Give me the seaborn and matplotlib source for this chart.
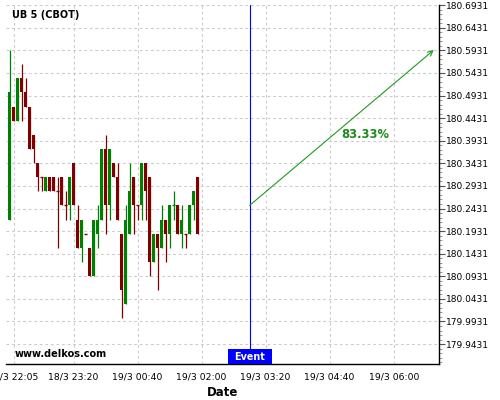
import matplotlib
matplotlib.use("Agg")
import matplotlib.pyplot as plt
import matplotlib.dates as mdates
import matplotlib.ticker as mticker
from matplotlib.patches import Rectangle
import matplotlib.transforms as mtrans
import numpy as np
import pandas as pd
import seaborn as sns

# 5 minute candles, prices quoted in 32nds above 180
opens  = [7, 15, 14, 17, 16, 15, 13, 11, 10, 9, 10, 10, 9, 10, 8, 8, 11, 7, 5, 6, 5, 3, 6, 7,
          12, 8, 11, 10, 6, 1, 6, 10, 8, 8, 11, 10, 4, 6, 5, 7, 6, 8, 8, 6, 6, 6, 8, 10]
highs  = [19, 15, 17, 18, 17, 15, 13, 11, 10, 10, 10, 10, 10, 10, 9, 10, 11, 8, 7, 6, 5, 7, 8, 12,
          13, 12, 11, 11, 6, 8, 11, 10, 8, 11, 11, 10, 6, 6, 8, 7, 8, 9, 8, 8, 6, 8, 9, 10]
lows   = [7, 14, 14, 14, 15, 12, 11, 9, 9, 9, 9, 9, 5, 8, 7, 7, 8, 5, 4, 6, 3, 3, 5, 7,
          6, 7, 10, 7, 0, 1, 6, 6, 7, 7, 7, 3, 4, 2, 5, 4, 5, 7, 6, 5, 5, 6, 7, 6]
closes = [16, 14, 17, 16, 15, 12, 12, 10, 10, 10, 9, 9, 9, 8, 8, 10, 8, 5, 7, 6, 3, 7, 7, 12,
          8, 12, 10, 7, 2, 7, 9, 8, 8, 11, 9, 4, 6, 5, 7, 6, 8, 8, 6, 7, 6, 8, 9, 6]
green_dojis = [41]  # index of the flat candle drawn green

start_time = "2024-03-18 22:00"
event_time = "2024-03-19 03:00"
arrow_end_time = "2024-03-19 06:50"
arrow_start_price = 8
arrow_end_price = 19
label_time = "2024-03-19 04:55"
label_price = 180.408
label_text = "83.33%"
tick_times = ["2024-03-18 22:05", "2024-03-18 23:20", "2024-03-19 00:40", "2024-03-19 02:00",
              "2024-03-19 03:20", "2024-03-19 04:40", "2024-03-19 06:00"]

sns.set_style("white")
plt.rcParams['font.family'] = ['DejaVu Sans']
plt.rcParams['text.color'] = 'black'
plt.rcParams['axes.labelcolor'] = 'black'
plt.rcParams['xtick.color'] = 'black'
plt.rcParams['ytick.color'] = 'black'

GREEN = "#008000"
RED = "#800000"
BLUE = "#0000ee"

o = 180 + np.array(opens) / 32
h = 180 + np.array(highs) / 32
l = 180 + np.array(lows) / 32
c = 180 + np.array(closes) / 32
times = pd.date_range(start_time, periods=len(opens), freq="5min")
x = mdates.date2num(times)

fig = plt.figure(figsize=(5, 4), dpi=100)
ax = fig.add_axes([6 / 500, 36 / 400, 433 / 500, 359 / 400])

up = c > o
flat = c == o
colors = [GREEN if (u or (f and i in green_dojis)) else RED for i, (u, f) in enumerate(zip(up, flat))]
w = 3.6 / 1440

ax.vlines(x, l, h, colors=colors, lw=0.9, zorder=3)
body_lo = np.minimum(o, c)
body_hi = np.maximum(o, c)
nz = ~flat
ax.bar(x[nz], (body_hi - body_lo)[nz], bottom=body_lo[nz], width=w,
       color=np.array(colors)[nz], linewidth=0, zorder=4)
ax.hlines(o[flat], x[flat] - w / 2, x[flat] + w / 2, colors=np.array(colors)[flat], lw=1.0, zorder=4)

ev = mdates.date2num(pd.Timestamp(event_time))
ax.set_xlim(mdates.date2num(pd.Timestamp("2024-03-18 21:55:36")),
            mdates.date2num(pd.Timestamp("2024-03-19 06:56:36")))
ax.set_ylim(179.899, 180.6935)

# event marker
box_h = 15 / 359
ax.axvline(ev, ymin=box_h, ymax=1, color=BLUE, lw=0.8, zorder=5)
trans = mtrans.blended_transform_factory(ax.transData, ax.transAxes)
ax.add_patch(Rectangle((ev - 27.5 / 1440, 0), 55 / 1440, box_h, transform=trans,
                       facecolor="#0000ff", edgecolor="none", zorder=6, clip_on=False))
ax.text(ev, box_h / 2, "Event", transform=trans, ha="center", va="center",
        color="white", fontsize=6.9, fontweight="bold", zorder=7)

# projection arrow
ax.annotate("", xy=(mdates.date2num(pd.Timestamp(arrow_end_time)), 180 + arrow_end_price / 32),
            xytext=(ev, 180 + arrow_start_price / 32),
            arrowprops=dict(arrowstyle="->", color="#1f9a1f", lw=0.8, mutation_scale=9,
                            shrinkA=0, shrinkB=0), zorder=5)
ax.text(mdates.date2num(pd.Timestamp(label_time)), label_price, label_text, color="#1a8a1a",
        fontsize=8.3, fontweight="bold", ha="left", va="center")

# axes styling
ax.xaxis.set_major_locator(mticker.FixedLocator(mdates.date2num(pd.to_datetime(tick_times))))
ax.xaxis.set_minor_locator(mticker.FixedLocator(
    mdates.date2num(pd.date_range("2024-03-18 21:40", "2024-03-19 07:00", freq="20min"))))
ax.xaxis.set_major_formatter(mdates.DateFormatter("%-d/%-m %H:%M"))

yt = 179.9431 + 0.05 * np.arange(16)
ax.yaxis.set_major_locator(mticker.FixedLocator(yt))
ax.yaxis.set_minor_locator(mticker.FixedLocator(179.8931 + 0.01 * np.arange(81)))
ax.yaxis.set_major_formatter(mticker.FormatStrFormatter("%.4f"))
ax.yaxis.tick_right()

ax.tick_params(axis="both", which="major", length=4, width=0.8, color="#555555",
               labelsize=6.7, pad=2, direction="out")
ax.tick_params(axis="both", which="minor", length=2, width=0.6, color="#888888", direction="out")
ax.tick_params(axis="y", labelsize=6.5, pad=1)

ax.grid(True, which="major", color="#cccccc", ls=(0, (2.5, 2.5)), lw=0.8)
ax.set_axisbelow(True)
for s in ["top", "left"]:
    ax.spines[s].set_visible(False)
for s in ["right", "bottom"]:
    ax.spines[s].set_color("black")
    ax.spines[s].set_linewidth(1)

ax.set_xlabel("Date", fontsize=8.5, fontweight="bold", labelpad=3)

fig.text(12 / 500, 1 - 15 / 400, "UB 5 (CBOT)", fontsize=7, fontweight="bold", va="center")
fig.text(15 / 500, 1 - 354 / 400, "www.delkos.com", fontsize=7, fontweight="bold", va="center")

fig.savefig("out.png", dpi=100)
